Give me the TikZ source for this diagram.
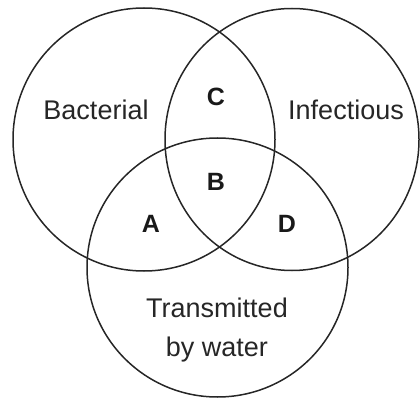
\documentclass[tikz,border=0pt]{standalone}
\usepackage{fontspec}
\setmainfont{Liberation Sans}
\tikzset{
  setline/.style={draw=black!85, line width=1.5pt},
  setlabel/.style={inner sep=0pt, text=black!85, font=\fontsize{27}{39}\selectfont},
  regionlabel/.style={inner sep=0pt, text=black!90, font=\fontsize{25}{30}\selectfont\bfseries},
}
\begin{document}
\begin{tikzpicture}[x=1pt,y=-1pt]
  \useasboundingbox (0,0) rectangle (420,398);
  % sets
  \draw[setline] (144,139.5) ellipse [x radius=131pt, y radius=131.5pt];
  \draw[setline] (292,139.5) ellipse [x radius=127pt, y radius=131pt];
  \draw[setline] (217.5,267.5) ellipse [x radius=130.5pt, y radius=129.5pt];
  % set labels
  \node[setlabel] (bact) at (96,110) {Bacterial};
  \node[setlabel] (inf) at (346,110) {Infectious};
  \node[setlabel, align=center] (trans) at (217,330) {Transmitted\\by water};
  % region labels
  \node[regionlabel] (C) at (216,97) {C};
  \node[regionlabel] (B) at (216,182) {B};
  \node[regionlabel] (A) at (151,224) {A};
  \node[regionlabel] (D) at (287,224) {D};
\end{tikzpicture}
\end{document}
